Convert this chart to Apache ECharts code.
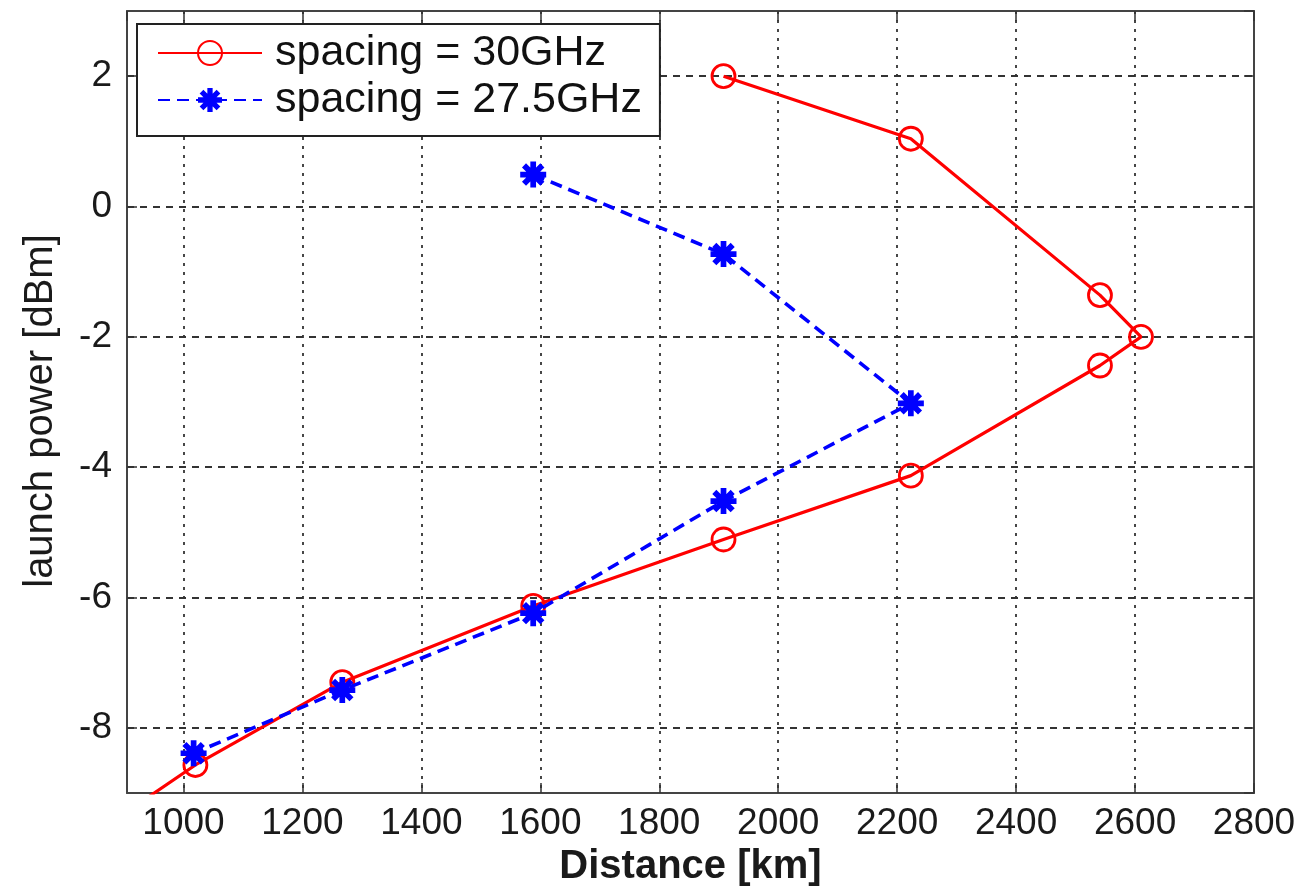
<!DOCTYPE html>
<html lang="en">
<head>
  <meta charset="UTF-8">
  <title>launch power vs distance</title>
  <script src="https://cdn.jsdelivr.net/npm/echarts@6/dist/echarts.min.js"></script>
  <style>
    html, body { margin: 0; padding: 0; background: #fff; }
    #chart { width: 1305px; height: 886px; }
  </style>
</head>
<body>
  <div id="chart"></div>
  <script>
    // spacing = 30GHz (last point sits below the axis and is clipped)
    const distance30 = [1908, 2223, 2541, 2610, 2541, 2223, 1908, 1588, 1267, 1020, 750];
    const power30 = [2, 1.04, -1.36, -2, -2.44, -4.13, -5.11, -6.13, -7.3, -8.57, -10.25];
    // spacing = 27.5GHz
    const distance275 = [1588, 1908, 2223, 1908, 1588, 1267, 1017];
    const power275 = [0.49, -0.73, -3.02, -4.52, -6.24, -7.42, -8.39];

    const seriesNames = ['spacing = 30GHz', 'spacing = 27.5GHz'];

    const FONT = "'Liberation Sans', Arial, sans-serif";
    // MATLAB-like '*' marker
    const asterisk = 'path://M-2.2,-10L2.2,-10L2.2,10L-2.2,10Z' +
      'M-10,-2.2L10,-2.2L10,2.2L-10,2.2Z' +
      'M-8.63,-5.51L-5.51,-8.63L8.63,5.51L5.51,8.63Z' +
      'M-5.51,8.63L-8.63,5.51L5.51,-8.63L8.63,-5.51Z';

    const chart = echarts.init(document.getElementById('chart'));

    const xRange = { min: 905, max: 2800 };
    const yRange = { min: -9, max: 3 };

    const tickStyle = { show: true, inside: true, length: 10, lineStyle: { color: '#333', width: 1.5 } };
    const axisLine = { show: true, onZero: false, lineStyle: { color: '#444', width: 2 } };

    const option = {
      animation: false,
      backgroundColor: '#fff',
      grid: { left: 127, right: 51, top: 11, bottom: 93, outerBoundsMode: 'none', containLabel: false },
      legend: {
        data: seriesNames,
        orient: 'vertical',
        left: 137,
        top: 24,
        itemWidth: 104,
        itemHeight: 30,
        itemGap: 1,
        padding: [6, 18, 13, 20],
        borderColor: '#222',
        borderWidth: 2,
        backgroundColor: '#fff',
        textStyle: { fontFamily: FONT, fontSize: 43, color: '#111', lineHeight: 46, padding: [0, 0, 0, 8] }
      },
      xAxis: [
        {
          type: 'value',
          min: xRange.min,
          max: xRange.max,
          splitNumber: 9,
          name: 'Distance [km]',
          nameLocation: 'middle',
          nameGap: 44,
          nameTextStyle: { fontFamily: FONT, fontSize: 40, fontWeight: 'bold', color: '#1a1a1a' },
          axisLine: axisLine,
          axisTick: tickStyle,
          axisLabel: {
            showMinLabel: false, margin: 12, fontFamily: FONT, fontSize: 37, color: '#1a1a1a',
            formatter: v => String(v)
          },
          splitLine: { show: true, lineStyle: { type: [3, 6], color: '#333', width: 1.8 } }
        },
        {
          type: 'value',
          position: 'top',
          min: xRange.min,
          max: xRange.max,
          splitNumber: 9,
          axisLine: axisLine,
          axisTick: tickStyle,
          axisLabel: { show: false },
          splitLine: { show: false }
        }
      ],
      yAxis: [
        {
          type: 'value',
          min: yRange.min,
          max: yRange.max,
          splitNumber: 6,
          name: 'launch power [dBm]',
          nameLocation: 'middle',
          nameGap: 66,
          nameTextStyle: { fontFamily: FONT, fontSize: 40, color: '#1a1a1a', padding: [0, 18, 0, 0] },
          axisLine: axisLine,
          axisTick: tickStyle,
          axisLabel: {
            showMinLabel: false, showMaxLabel: false, margin: 15, fontFamily: FONT, fontSize: 37, color: '#1a1a1a'
          },
          splitLine: { show: true, lineStyle: { type: [7, 6], color: '#333', width: 1.8 } }
        },
        {
          type: 'value',
          position: 'right',
          min: yRange.min,
          max: yRange.max,
          splitNumber: 6,
          axisLine: axisLine,
          axisTick: tickStyle,
          axisLabel: { show: false },
          splitLine: { show: false }
        }
      ],
      series: [
        {
          name: seriesNames[0],
          type: 'line',
          data: distance30.map((d, i) => [d, power30[i]]),
          symbol: 'circle',
          symbolSize: 23,
          showAllSymbol: true,
          clip: true,
          itemStyle: { color: 'rgba(255,255,255,0)', borderColor: '#ff0000', borderWidth: 2.8 },
          lineStyle: { color: '#ff0000', width: 3.2 },
          z: 3
        },
        {
          name: seriesNames[1],
          type: 'line',
          data: distance275.map((d, i) => [d, power275[i]]),
          symbol: asterisk,
          symbolSize: 26,
          showAllSymbol: true,
          clip: true,
          itemStyle: { color: '#0000ff', borderWidth: 0 },
          lineStyle: { color: '#0000ff', width: 3.6, type: [12, 7] },
          z: 4
        }
      ]
    };

    chart.setOption(option);

    window.addEventListener('resize', function () {
      chart.resize();
    });
  </script>
</body>
</html>
